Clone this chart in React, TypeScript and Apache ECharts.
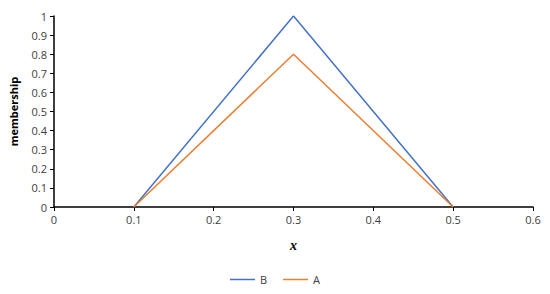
import React, { useEffect, useRef } from "react";
import * as echarts from "echarts";

const seriesNames = ["B", "A"];
const xB = [0.1, 0.3, 0.5];
const yB = [0, 1, 0];
const xA = [0.1, 0.3, 0.5];
const yA = [0, 0.8, 0];
const colors = ["#4472C4", "#ED7D31"];

export default function App() {
  const ref = useRef<HTMLDivElement>(null);
  useEffect(() => {
    const chart = echarts.init(ref.current!, undefined, { renderer: "svg" });
    const font = "'Open Sans', 'Noto Sans', sans-serif";
    chart.setOption({
      animation: false,
      grid: { left: 53, right: 17, top: 16, bottom: 87 },
      legend: {
        top: 269,
        left: "center",
        icon: "rect",
        itemWidth: 25,
        itemHeight: 1.5,
        itemGap: 16,
        textStyle: { fontFamily: font, fontSize: 11, color: "#404040" },
        data: seriesNames,
      },
      xAxis: {
        type: "value",
        min: 0,
        max: 0.6,
        interval: 0.1,
        name: "x",
        nameLocation: "middle",
        nameGap: 31,
        nameTextStyle: {
          fontFamily: "'Liberation Serif', 'DejaVu Serif', serif",
          fontStyle: "italic",
          fontWeight: "bold",
          fontSize: 14,
          color: "#000",
        },
        axisLine: { lineStyle: { color: "#000", width: 1.5 } },
        axisTick: { show: true, length: 4, lineStyle: { color: "#000" } },
        axisLabel: { fontFamily: font, fontSize: 11, color: "#404040", margin: 7 },
        splitLine: { show: false },
      },
      yAxis: {
        type: "value",
        min: 0,
        max: 1,
        interval: 0.1,
        name: "membership",
        nameLocation: "middle",
        nameGap: 35,
        nameTextStyle: { fontFamily: font, fontWeight: "bold", fontSize: 11, color: "#000" },
        axisLine: { show: true, lineStyle: { color: "#000", width: 1.5 } },
        axisTick: { show: true, length: 4, lineStyle: { color: "#000" } },
        axisLabel: { fontFamily: font, fontSize: 11, color: "#404040", margin: 7 },
        splitLine: { show: false },
      },
      series: [
        {
          name: seriesNames[0],
          type: "line",
          symbol: "none",
          data: xB.map((x, i) => [x, yB[i]]),
          lineStyle: { color: colors[0], width: 1.5 },
          itemStyle: { color: colors[0] },
        },
        {
          name: seriesNames[1],
          type: "line",
          symbol: "none",
          data: xA.map((x, i) => [x, yA[i]]),
          lineStyle: { color: colors[1], width: 1.5 },
          itemStyle: { color: colors[1] },
        },
      ],
    });
    return () => chart.dispose();
  }, []);
  return <div ref={ref} style={{ width: 550, height: 294, position: "absolute", left: 0, top: 0 }} />;
}
